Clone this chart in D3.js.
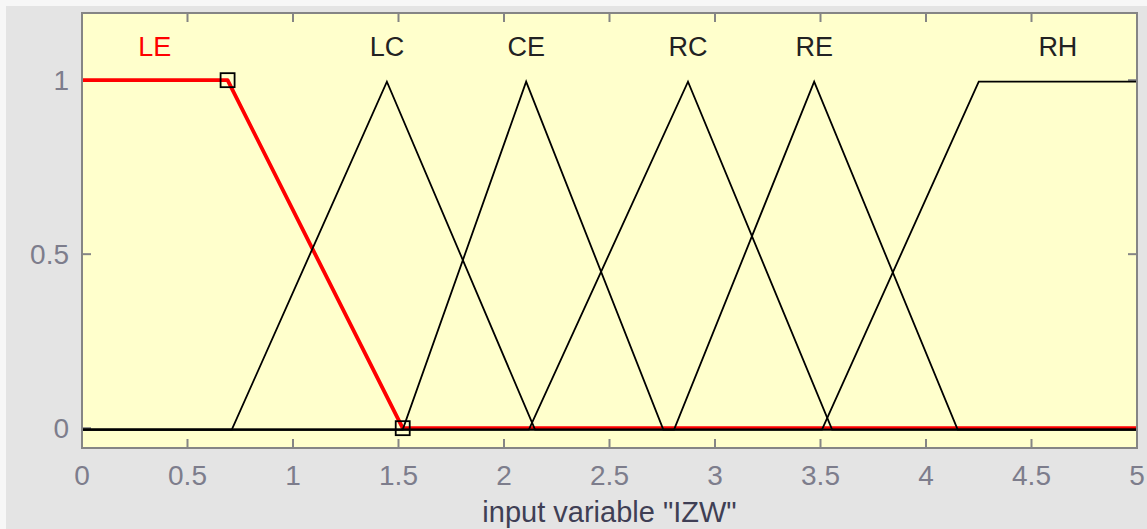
<!DOCTYPE html>
<html>
<head>
<meta charset="utf-8">
<script src="https://cdn.jsdelivr.net/npm/d3@7"></script>
<style>
  html, body { margin: 0; padding: 0; background: #f7f7f7; }
  svg { display: block; }
  text { font-family: "Liberation Sans", Arial, sans-serif; }
</style>
</head>
<body>
<svg id="chart" width="1147" height="529"></svg>
<script>
// ---- data ----
const xTicks = [0, 0.5, 1, 1.5, 2, 2.5, 3, 3.5, 4, 4.5, 5];
const yTicks = [0, 0.5, 1];
const mfNames = ["LE", "LC", "CE", "RC", "RE", "RH"];
const mfLE = { x: [0, 0.69, 1.52, 5], y: [1, 1, 0, 0] };
const mfLC = { x: [0, 0.71, 1.445, 2.147, 5], y: [0, 0, 1, 0, 0] };
const mfCE = { x: [0, 1.52, 2.105, 2.755, 5], y: [0, 0, 1, 0, 0] };
const mfRC = { x: [0, 2.118, 2.872, 3.555, 5], y: [0, 0, 1, 0, 0] };
const mfRE = { x: [0, 2.806, 3.47, 4.15, 5], y: [0, 0, 1, 0, 0] };
const mfRH = { x: [0, 3.507, 4.25, 5], y: [0, 0, 1, 1] };
const mfList = [mfLE, mfLC, mfCE, mfRC, mfRE, mfRH];
const selectedIndex = 0;
const xLabel = 'input variable "IZW"';
const xDomain = [0, 5];
const yDomain = [-0.057, 1.193];

// ---- drawing ----
const svg = d3.select("#chart");
const W = 1147, H = 529;
const box = { left: 82, right: 1137, top: 13, bottom: 448 };

svg.append("rect").attr("x", 6).attr("y", 6).attr("width", W - 6).attr("height", H - 6)
  .attr("fill", "#e4e4e4");

const x = d3.scaleLinear().domain(xDomain).range([box.left, box.right]);
const y = d3.scaleLinear().domain(yDomain).range([box.bottom, box.top]);

svg.append("rect")
  .attr("x", box.left).attr("y", box.top)
  .attr("width", box.right - box.left).attr("height", box.bottom - box.top)
  .attr("fill", "#ffffcc");

const tickLen = 9;
const gridG = svg.append("g").attr("stroke", "#858585").attr("stroke-width", 2);
xTicks.forEach(t => {
  gridG.append("line").attr("x1", x(t)).attr("x2", x(t))
    .attr("y1", box.bottom).attr("y2", box.bottom - tickLen);
  gridG.append("line").attr("x1", x(t)).attr("x2", x(t))
    .attr("y1", box.top).attr("y2", box.top + tickLen);
});
yTicks.forEach(t => {
  gridG.append("line").attr("x1", box.left).attr("x2", box.left + tickLen)
    .attr("y1", y(t)).attr("y2", y(t));
  gridG.append("line").attr("x1", box.right).attr("x2", box.right - tickLen)
    .attr("y1", y(t)).attr("y2", y(t));
});

const line = d3.line().x(d => x(d[0])).y(d => y(d[1]));
const pts = mf => mf.x.map((v, i) => [v, mf.y[i]]);

// selected MF (red, thick) drawn first
svg.append("path").datum(pts(mfList[selectedIndex]))
  .attr("d", line).attr("fill", "none")
  .attr("stroke", "#ff0000").attr("stroke-width", 3.8)
  .attr("stroke-linejoin", "round");

// other MFs in black
const blackG = svg.append("g").attr("transform", "translate(0,1.5)");
mfList.forEach((mf, i) => {
  if (i === selectedIndex) return;
  blackG.append("path").datum(pts(mf))
    .attr("d", line).attr("fill", "none")
    .attr("stroke", "#000").attr("stroke-width", 1.8);
});

// square handles on the selected MF's interior breakpoints
const sel = mfList[selectedIndex];
const handles = pts(sel).filter((p, i) => i > 0 && i < sel.x.length - 1);
svg.append("g").selectAll("rect").data(handles).join("rect")
  .attr("x", d => x(d[0]) - 7).attr("y", d => y(d[1]) - 7)
  .attr("width", 14).attr("height", 14)
  .attr("fill", "none").attr("stroke", "#000").attr("stroke-width", 1.8);

// MF labels at centre of the max region
const labelY = 1.07;
mfList.forEach((mf, i) => {
  const maxV = d3.max(mf.y);
  const xs = mf.x.filter((v, j) => mf.y[j] === maxV);
  const cx = (d3.min(xs) + d3.max(xs)) / 2;
  svg.append("text")
    .attr("x", x(cx)).attr("y", y(labelY))
    .attr("text-anchor", "middle")
    .attr("font-size", 27)
    .attr("fill", i === selectedIndex ? "#ff0000" : "#222")
    .text(mfNames[i]);
});

// axes border
svg.append("rect")
  .attr("x", box.left).attr("y", box.top)
  .attr("width", box.right - box.left).attr("height", box.bottom - box.top)
  .attr("fill", "none").attr("stroke", "#858585").attr("stroke-width", 2);

// tick labels
svg.append("g").selectAll("text").data(xTicks).join("text")
  .attr("x", d => x(d)).attr("y", 485)
  .attr("text-anchor", "middle").attr("font-size", 28)
  .attr("fill", "#7d7d8c").text(d => d3.format("")(d));

svg.append("g").selectAll("text").data(yTicks).join("text")
  .attr("x", 69).attr("y", d => y(d))
  .attr("dy", "0.36em")
  .attr("text-anchor", "end").attr("font-size", 28)
  .attr("fill", "#7d7d8c").text(d => d3.format("")(d));

svg.append("text")
  .attr("x", (box.left + box.right) / 2).attr("y", 522)
  .attr("text-anchor", "middle").attr("font-size", 29)
  .attr("fill", "#3f3f55").text(xLabel);
</script>
</body>
</html>
